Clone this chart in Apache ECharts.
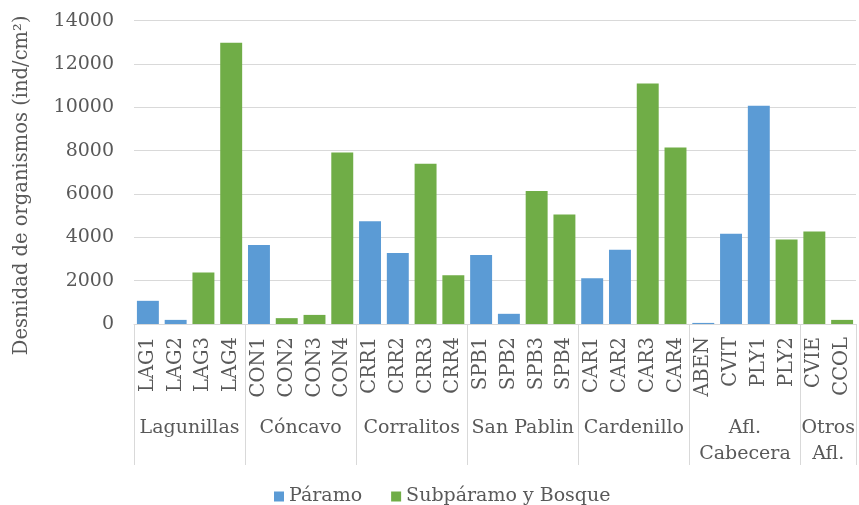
<!DOCTYPE html>
<html>
<head>
<meta charset="utf-8">
<script src="https://cdn.jsdelivr.net/npm/echarts@6/dist/echarts.min.js"></script>
<style>
  html, body { margin: 0; padding: 0; background: #ffffff; }
  #chart { width: 859px; height: 505px; }
</style>
</head>
<body>
<div id="chart"></div>
<script>
// Sampling stations and the basin each one belongs to
const stations = ['LAG1','LAG2','LAG3','LAG4','CON1','CON2','CON3','CON4',
  'CRR1','CRR2','CRR3','CRR4','SPB1','SPB2','SPB3','SPB4',
  'CAR1','CAR2','CAR3','CAR4','ABEN','CVIT','PLY1','PLY2','CVIE','CCOL'];
const groupNames = ['Lagunillas','Cóncavo','Corralitos','San Pablin','Cardenillo','Afl.\nCabecera','Otros\nAfl.'];
const groupSizes = [4, 4, 4, 4, 4, 4, 2];

// Organism density (ind/cm²); null where the station is in the other zone
const paramo = [1070, 190, null, null, 3650, null, null, null,
  4740, 3280, null, null, 3190, 470, null, null,
  2110, 3430, null, null, 50, 4170, 10070, null, null, null];
const subparamo = [null, null, 2380, 12980, null, 270, 420, 7920,
  null, null, 7400, 2250, null, null, 6140, 5060,
  null, null, 11100, 8150, null, null, null, 3900, 4270, 190];

const yTicks = { min: 0, max: 14000, step: 2000 };

// Group boundaries (first index of each group) and group label centres
const boundaries = [];
const centres = {};
let start = 0;
groupSizes.forEach((n, i) => {
  boundaries.push(start);
  centres[start + n / 2] = groupNames[i];
  start += n;
});

const FONT = 'DejaVu Serif';
const TXT = '#595959';
const GRID = '#d9d9d9';

const chart = echarts.init(document.getElementById('chart'), null, { renderer: 'canvas' });
chart.setOption({
  animation: false,
  backgroundColor: '#ffffff',
  textStyle: { fontFamily: FONT },
  grid: { left: 134, right: 0, top: 20.7, bottom: 181 },
  legend: {
    data: ['Páramo', 'Subpáramo y Bosque'],
    left: 269, top: 482,
    icon: 'rect', itemWidth: 10, itemHeight: 10, itemGap: 29,
    textStyle: { fontFamily: FONT, fontSize: 19, color: TXT }
  },
  xAxis: [
    {
      type: 'category',
      data: stations,
      axisLine: { show: true, lineStyle: { color: GRID, width: 1 } },
      axisTick: {
        show: true,
        interval: (idx) => boundaries.includes(idx),
        length: 141,
        lineStyle: { color: GRID, width: 1 }
      },
      axisLabel: {
        interval: 0, rotate: 90, margin: 13,
        fontFamily: FONT, fontSize: 19.5, color: TXT
      },
      splitLine: { show: false }
    },
    {
      type: 'value',
      position: 'bottom',
      min: 0, max: stations.length, interval: 1,
      axisLine: { show: false },
      axisTick: { show: false },
      splitLine: { show: false },
      axisLabel: {
        margin: 91,
        verticalAlign: 'top',
        align: 'center',
        lineHeight: 26,
        fontFamily: FONT, fontSize: 19, color: TXT,
        formatter: (v) => centres[v] || ''
      }
    }
  ],
  yAxis: {
    type: 'value',
    min: yTicks.min, max: yTicks.max, interval: yTicks.step,
    name: 'Desnidad de organismos (ind/cm²)',
    nameLocation: 'middle',
    nameGap: 102,
    nameTextStyle: { fontFamily: FONT, fontSize: 19.5, color: TXT, padding: [0, 26, 0, 0] },
    axisLine: { show: false },
    axisTick: { show: false },
    axisLabel: {
      margin: 20, fontFamily: FONT, fontSize: 19, color: TXT,
      formatter: (v) => String(v)
    },
    splitLine: { show: true, lineStyle: { color: GRID, width: 1 } }
  },
  series: [
    {
      name: 'Páramo', type: 'bar', data: paramo,
      xAxisIndex: 0, barWidth: '79%', barGap: '-100%',
      itemStyle: { color: '#5b9bd5' }
    },
    {
      name: 'Subpáramo y Bosque', type: 'bar', data: subparamo,
      xAxisIndex: 0, barWidth: '79%', barGap: '-100%',
      itemStyle: { color: '#70ad47' }
    }
  ]
});
</script>
</body>
</html>
